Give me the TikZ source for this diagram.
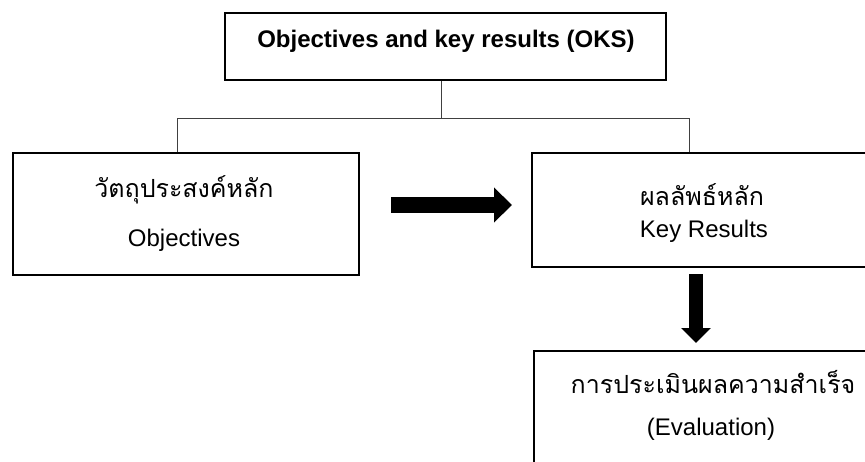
\documentclass[tikz,border=0pt]{standalone}
\usepackage{fontspec}
\setmainfont{Liberation Sans}
\newfontfamily\thaifont[Script=Thai]{Loma}
\usetikzlibrary{arrows.meta}
\tikzset{
    box/.style={draw=black, line width=1.6pt, inner sep=0pt, anchor=north west},
    txt/.style={anchor=base, inner sep=0pt, font=\fontsize{24}{28}\selectfont},
    thtxt/.style={anchor=base, inner sep=0pt, font=\thaifont\fontsize{25}{29}\selectfont},
    link/.style={draw=black!75, line width=1pt},
    blockarrow/.style={line width=#1, line cap=butt}
}
\begin{document}
\begin{tikzpicture}[x=1pt, y=-1pt]
            \fill[white] (0,0) rectangle (865,461);
            \useasboundingbox (0,0) rectangle (865,461);
            \clip (0,0) rectangle (865,461);
            %%%%%%%%%%%%%%% Boxes
            \node[box, minimum width=441pt, minimum height=67pt] (oks) at (224,12) {};
            \node[box, minimum width=346pt, minimum height=122pt] (obj) at (12,152) {};
            \node[box, minimum width=344pt, minimum height=114pt] (kr) at (531,152) {};
            \node[box, minimum width=360pt, minimum height=125pt] (ev) at (533,350) {};
            %%%%%%%%%%%%%%% Texts
            \node[txt, font=\fontsize{24}{28}\selectfont\bfseries] (oks-en) at (446,47) {Objectives and key results (OKS)};
            \node[thtxt] (obj-th) at (184,197) {วัตถุประสงค์หลัก};
            \node[txt] (obj-en) at (184,246) {Objectives};
            \node[thtxt] (kr-th) at (702,205) {ผลลัพธ์หลัก};
            \node[txt] (kr-en) at (704,237) {Key Results};
            \node[thtxt] (ev-th) at (713,393) {การประเมินผลความสำเร็จ};
            \node[txt] (ev-en) at (711,435) {(Evaluation)};
            %%%%%%%%%%%%%%% Tree lines
            \coordinate (split-l) at (177,118);
            \coordinate (split-r) at (689,118);
            \draw[link] (oks.south -| 441,0) -- (441,118);
            \draw[link] (obj.north -| split-l) -- (split-l) -- (split-r) -- (kr.north -| split-r);
            %%%%%%%%%%%%%%% Block arrows
            \coordinate (ra-start) at (391,205);
            \coordinate (ra-end) at (512,205);
            \draw[blockarrow=16pt, -{Triangle[length=18pt, width=34pt]}] (ra-start) -- (ra-end);
            \coordinate (da-start) at (696,274);
            \coordinate (da-end) at (696,343);
            \draw[blockarrow=14pt, -{Triangle[length=15pt, width=29pt]}] (da-start) -- (da-end);
\end{tikzpicture}
\end{document}
